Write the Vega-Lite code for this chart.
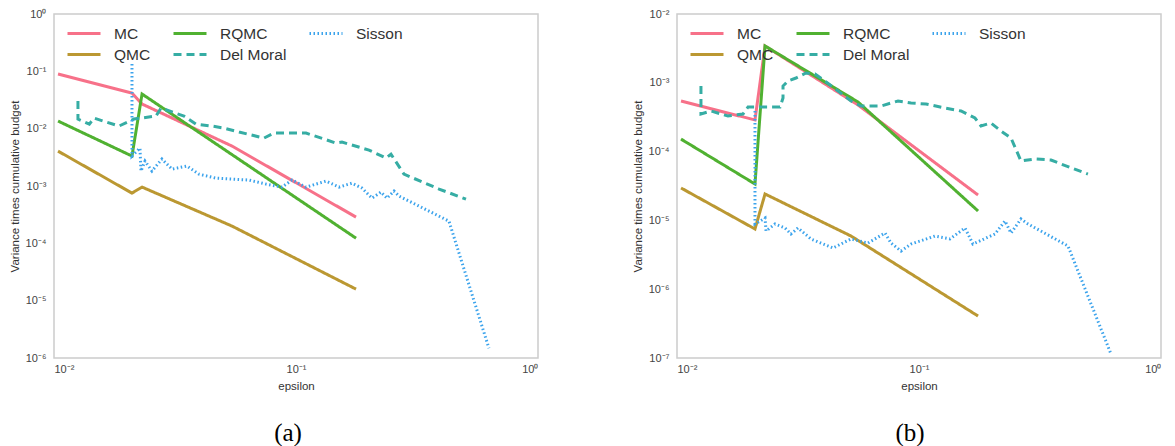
{
  "$schema": "https://vega.github.io/schema/vega-lite/v6.json",
  "padding": {"left": 8, "top": 7, "right": 5, "bottom": 5},
  "spacing": 92,
  "background": "white",
  "config": {
    "font": "Liberation Sans",
    "view": {"stroke": "#cccccc", "strokeWidth": 1.5},
    "axis": {"grid": false, "domain": false, "ticks": false, "labelFont": "Liberation Sans", "labelFontSize": 11, "labelColor": "#444444", "titleFont": "Liberation Sans", "titleFontSize": 11.5, "titleFontWeight": "normal", "titleColor": "#333333"},
    "axisY": {"labelPadding": 8, "minExtent": 26, "maxExtent": 26, "titlePadding": 8},
    "axisX": {"labelPadding": 5, "titlePadding": 6},
    "legend": {"orient": "none", "legendX": 17.5, "legendY": 7, "columns": 3, "columnPadding": 17, "rowPadding": -1, "symbolType": "M-1.5,0H1.5", "symbolSize": 484, "symbolStrokeWidth": 3, "labelFontSize": 15.5, "labelFont": "Liberation Sans", "labelColor": "#333333", "labelOffset": 17.5, "title": null, "padding": 0},
    "title": {"font": "Liberation Serif", "fontSize": 25, "fontWeight": "normal", "color": "#000000"}
  },
  "datasets": {
    "d": [
      {"p":"a","s":"MC","x":0.01039,"y":0.0897},
      {"p":"a","s":"MC","x":0.0210,"y":0.0418},
      {"p":"a","s":"MC","x":0.02311,"y":0.0269},
      {"p":"a","s":"MC","x":0.05439,"y":0.00497},
      {"p":"a","s":"MC","x":0.177,"y":0.000287},
      {"p":"a","s":"RQMC","x":0.01039,"y":0.01358},
      {"p":"a","s":"RQMC","x":0.0210,"y":0.00333},
      {"p":"a","s":"RQMC","x":0.02311,"y":0.0402},
      {"p":"a","s":"RQMC","x":0.177,"y":0.000123},
      {"p":"a","s":"QMC","x":0.01039,"y":0.00406},
      {"p":"a","s":"QMC","x":0.0210,"y":0.000752},
      {"p":"a","s":"QMC","x":0.02311,"y":0.000957},
      {"p":"a","s":"QMC","x":0.05439,"y":0.0002},
      {"p":"a","s":"QMC","x":0.177,"y":0.0000159},
      {"p":"a","s":"Del Moral","x":0.01256,"y":0.0303},
      {"p":"a","s":"Del Moral","x":0.01256,"y":0.01471},
      {"p":"a","s":"Del Moral","x":0.0140,"y":0.01203},
      {"p":"a","s":"Del Moral","x":0.01463,"y":0.0153},
      {"p":"a","s":"Del Moral","x":0.01856,"y":0.0111},
      {"p":"a","s":"Del Moral","x":0.0214,"y":0.01471},
      {"p":"a","s":"Del Moral","x":0.0264,"y":0.0166},
      {"p":"a","s":"Del Moral","x":0.02768,"y":0.0229},
      {"p":"a","s":"Del Moral","x":0.03445,"y":0.0166},
      {"p":"a","s":"Del Moral","x":0.03862,"y":0.01203},
      {"p":"a","s":"Del Moral","x":0.04497,"y":0.0111},
      {"p":"a","s":"Del Moral","x":0.05041,"y":0.01024},
      {"p":"a","s":"Del Moral","x":0.05814,"y":0.00873},
      {"p":"a","s":"Del Moral","x":0.07377,"y":0.00685},
      {"p":"a","s":"Del Moral","x":0.0811,"y":0.00838},
      {"p":"a","s":"Del Moral","x":0.110,"y":0.00838},
      {"p":"a","s":"Del Moral","x":0.1462,"y":0.00561},
      {"p":"a","s":"Del Moral","x":0.1549,"y":0.00583},
      {"p":"a","s":"Del Moral","x":0.2003,"y":0.00423},
      {"p":"a","s":"Del Moral","x":0.2355,"y":0.00307},
      {"p":"a","s":"Del Moral","x":0.2469,"y":0.0036},
      {"p":"a","s":"Del Moral","x":0.2793,"y":0.00161},
      {"p":"a","s":"Del Moral","x":0.390,"y":0.000883},
      {"p":"a","s":"Del Moral","x":0.504,"y":0.000591},
      {"p":"a","s":"Sisson","x":0.0210,"y":0.1341},
      {"p":"a","s":"Sisson","x":0.0210,"y":0.00333},
      {"p":"a","s":"Sisson","x":0.02266,"y":0.00458},
      {"p":"a","s":"Sisson","x":0.02288,"y":0.00182},
      {"p":"a","s":"Sisson","x":0.02377,"y":0.00272},
      {"p":"a","s":"Sisson","x":0.0254,"y":0.00182},
      {"p":"a","s":"Sisson","x":0.02793,"y":0.00295},
      {"p":"a","s":"Sisson","x":0.03074,"y":0.00197},
      {"p":"a","s":"Sisson","x":0.03546,"y":0.00223},
      {"p":"a","s":"Sisson","x":0.03973,"y":0.00161},
      {"p":"a","s":"Sisson","x":0.0467,"y":0.00137},
      {"p":"a","s":"Sisson","x":0.05439,"y":0.00132},
      {"p":"a","s":"Sisson","x":0.06397,"y":0.00127},
      {"p":"a","s":"Sisson","x":0.07516,"y":0.00108},
      {"p":"a","s":"Sisson","x":0.0875,"y":0.000957},
      {"p":"a","s":"Sisson","x":0.0963,"y":0.00127},
      {"p":"a","s":"Sisson","x":0.110,"y":0.000957},
      {"p":"a","s":"Sisson","x":0.1331,"y":0.00122},
      {"p":"a","s":"Sisson","x":0.1506,"y":0.000957},
      {"p":"a","s":"Sisson","x":0.1703,"y":0.00112},
      {"p":"a","s":"Sisson","x":0.1874,"y":0.000919},
      {"p":"a","s":"Sisson","x":0.2061,"y":0.000615},
      {"p":"a","s":"Sisson","x":0.2244,"y":0.000783},
      {"p":"a","s":"Sisson","x":0.2377,"y":0.000615},
      {"p":"a","s":"Sisson","x":0.2541,"y":0.000815},
      {"p":"a","s":"Sisson","x":0.2665,"y":0.000667},
      {"p":"a","s":"Sisson","x":0.4286,"y":0.000244},
      {"p":"a","s":"Sisson","x":0.627,"y":0.00000148},
      {"p":"b","s":"MC","x":0.01039,"y":0.000544},
      {"p":"b","s":"MC","x":0.0210,"y":0.000288},
      {"p":"b","s":"MC","x":0.02311,"y":0.003428},
      {"p":"b","s":"MC","x":0.05598,"y":0.000476},
      {"p":"b","s":"MC","x":0.1754,"y":0.0000234},
      {"p":"b","s":"RQMC","x":0.01039,"y":0.000152},
      {"p":"b","s":"RQMC","x":0.0210,"y":0.0000338},
      {"p":"b","s":"RQMC","x":0.02311,"y":0.003428},
      {"p":"b","s":"RQMC","x":0.05598,"y":0.000526},
      {"p":"b","s":"RQMC","x":0.1754,"y":0.0000137},
      {"p":"b","s":"QMC","x":0.01039,"y":0.0000296},
      {"p":"b","s":"QMC","x":0.0210,"y":0.0000075},
      {"p":"b","s":"QMC","x":0.02311,"y":0.0000242},
      {"p":"b","s":"QMC","x":0.05236,"y":0.00000593},
      {"p":"b","s":"QMC","x":0.1754,"y":0.000000407},
      {"p":"b","s":"Del Moral","x":0.01256,"y":0.000898},
      {"p":"b","s":"Del Moral","x":0.01256,"y":0.000352},
      {"p":"b","s":"Del Moral","x":0.01382,"y":0.000389},
      {"p":"b","s":"Del Moral","x":0.0152,"y":0.000352},
      {"p":"b","s":"Del Moral","x":0.01624,"y":0.000329},
      {"p":"b","s":"Del Moral","x":0.01874,"y":0.000352},
      {"p":"b","s":"Del Moral","x":0.01966,"y":0.000445},
      {"p":"b","s":"Del Moral","x":0.02665,"y":0.000445},
      {"p":"b","s":"Del Moral","x":0.02742,"y":0.000601},
      {"p":"b","s":"Del Moral","x":0.02742,"y":0.000898},
      {"p":"b","s":"Del Moral","x":0.02875,"y":0.001062},
      {"p":"b","s":"Del Moral","x":0.03102,"y":0.001174},
      {"p":"b","s":"Del Moral","x":0.03412,"y":0.001388},
      {"p":"b","s":"Del Moral","x":0.03718,"y":0.001343},
      {"p":"b","s":"Del Moral","x":0.04089,"y":0.001062},
      {"p":"b","s":"Del Moral","x":0.04628,"y":0.00076},
      {"p":"b","s":"Del Moral","x":0.05236,"y":0.000544},
      {"p":"b","s":"Del Moral","x":0.05754,"y":0.00046},
      {"p":"b","s":"Del Moral","x":0.06966,"y":0.00046},
      {"p":"b","s":"Del Moral","x":0.0819,"y":0.000544},
      {"p":"b","s":"Del Moral","x":0.0927,"y":0.000508},
      {"p":"b","s":"Del Moral","x":0.1069,"y":0.000492},
      {"p":"b","s":"Del Moral","x":0.128,"y":0.00043},
      {"p":"b","s":"Del Moral","x":0.1492,"y":0.000389},
      {"p":"b","s":"Del Moral","x":0.1703,"y":0.000308},
      {"p":"b","s":"Del Moral","x":0.1803,"y":0.000236},
      {"p":"b","s":"Del Moral","x":0.1983,"y":0.00026},
      {"p":"b","s":"Del Moral","x":0.2183,"y":0.000199},
      {"p":"b","s":"Del Moral","x":0.2399,"y":0.000158},
      {"p":"b","s":"Del Moral","x":0.2639,"y":0.000073},
      {"p":"b","s":"Del Moral","x":0.3013,"y":0.0000781},
      {"p":"b","s":"Del Moral","x":0.3512,"y":0.0000755},
      {"p":"b","s":"Del Moral","x":0.3862,"y":0.0000661},
      {"p":"b","s":"Del Moral","x":0.4989,"y":0.0000472},
      {"p":"b","s":"Sisson","x":0.0210,"y":0.000389},
      {"p":"b","s":"Sisson","x":0.0210,"y":0.00000887},
      {"p":"b","s":"Sisson","x":0.02311,"y":0.0000108},
      {"p":"b","s":"Sisson","x":0.02333,"y":0.00000701},
      {"p":"b","s":"Sisson","x":0.0254,"y":0.00000887},
      {"p":"b","s":"Sisson","x":0.02795,"y":0.00000776},
      {"p":"b","s":"Sisson","x":0.02958,"y":0.00000634},
      {"p":"b","s":"Sisson","x":0.03162,"y":0.00000776},
      {"p":"b","s":"Sisson","x":0.03578,"y":0.00000537},
      {"p":"b","s":"Sisson","x":0.04411,"y":0.00000397},
      {"p":"b","s":"Sisson","x":0.05236,"y":0.00000537},
      {"p":"b","s":"Sisson","x":0.0615,"y":0.00000469},
      {"p":"b","s":"Sisson","x":0.07236,"y":0.00000656},
      {"p":"b","s":"Sisson","x":0.0766,"y":0.00000469},
      {"p":"b","s":"Sisson","x":0.0843,"y":0.00000359},
      {"p":"b","s":"Sisson","x":0.0927,"y":0.00000454},
      {"p":"b","s":"Sisson","x":0.1164,"y":0.00000593},
      {"p":"b","s":"Sisson","x":0.1343,"y":0.00000537},
      {"p":"b","s":"Sisson","x":0.1549,"y":0.00000776},
      {"p":"b","s":"Sisson","x":0.1671,"y":0.00000454},
      {"p":"b","s":"Sisson","x":0.2061,"y":0.00000634},
      {"p":"b","s":"Sisson","x":0.2266,"y":0.0000098},
      {"p":"b","s":"Sisson","x":0.2399,"y":0.00000656},
      {"p":"b","s":"Sisson","x":0.2639,"y":0.0000105},
      {"p":"b","s":"Sisson","x":0.2821,"y":0.00000887},
      {"p":"b","s":"Sisson","x":0.4127,"y":0.00000425},
      {"p":"b","s":"Sisson","x":0.6215,"y":0.000000114}
    ]
  },
  "data": {"name": "d"},
  "resolve": {
    "scale": {"x": "independent", "y": "independent", "color": "independent", "strokeDash": "independent"},
    "legend": {"color": "independent", "strokeDash": "independent"}
  },
  "hconcat": [
    {
      "width": 484, "height": 344,
      "title": {"text": "(a)", "orient": "bottom", "offset": 29, "dx": -8},
      "transform": [{"filter": "datum.p === 'a'"}],
      "mark": {"type": "line", "strokeWidth": 3, "clip": true, "strokeCap": "butt"},
      "encoding": {
        "x": {"field": "x", "type": "quantitative", "scale": {"type": "log", "domain": [0.01, 1], "nice": false}, "axis": {"title": "epsilon", "values": [0.01, 0.1, 1], "labelExpr": "['10⁻⁷','10⁻⁶','10⁻⁵','10⁻⁴','10⁻³','10⁻²','10⁻¹','10⁰'][round(log(datum.value)/LN10)+7]"}},
        "y": {"field": "y", "type": "quantitative", "scale": {"type": "log", "domain": [0.000001, 1], "nice": false}, "axis": {"title": "Variance times cumulative budget", "values": [0.000001, 0.00001, 0.0001, 0.001, 0.01, 0.1, 1], "labelExpr": "['10⁻⁷','10⁻⁶','10⁻⁵','10⁻⁴','10⁻³','10⁻²','10⁻¹','10⁰'][round(log(datum.value)/LN10)+7]"}},
        "color": {"field": "s", "type": "nominal", "scale": {"domain": ["MC", "QMC", "RQMC", "Del Moral", "Sisson"], "range": ["#f77189", "#bb9832", "#50b131", "#36ada4", "#3ba3ec"]}},
        "strokeDash": {"field": "s", "type": "nominal", "scale": {"domain": ["MC", "QMC", "RQMC", "Del Moral", "Sisson"], "range": [[1, 0], [1, 0], [1, 0], [8, 5], [1.5, 2.5]]}},
        "order": {"value": null}
      }
    },
    {
      "width": 484, "height": 344,
      "title": {"text": "(b)", "orient": "bottom", "offset": 29, "dx": -9},
      "transform": [{"filter": "datum.p === 'b'"}],
      "mark": {"type": "line", "strokeWidth": 3, "clip": true, "strokeCap": "butt"},
      "encoding": {
        "x": {"field": "x", "type": "quantitative", "scale": {"type": "log", "domain": [0.01, 1], "nice": false}, "axis": {"title": "epsilon", "values": [0.01, 0.1, 1], "labelExpr": "['10⁻⁷','10⁻⁶','10⁻⁵','10⁻⁴','10⁻³','10⁻²','10⁻¹','10⁰'][round(log(datum.value)/LN10)+7]"}},
        "y": {"field": "y", "type": "quantitative", "scale": {"type": "log", "domain": [0.0000001, 0.01], "nice": false}, "axis": {"title": "Variance times cumulative budget", "values": [0.0000001, 0.000001, 0.00001, 0.0001, 0.001, 0.01], "labelExpr": "['10⁻⁷','10⁻⁶','10⁻⁵','10⁻⁴','10⁻³','10⁻²','10⁻¹','10⁰'][round(log(datum.value)/LN10)+7]"}},
        "color": {"field": "s", "type": "nominal", "scale": {"domain": ["MC", "QMC", "RQMC", "Del Moral", "Sisson"], "range": ["#f77189", "#bb9832", "#50b131", "#36ada4", "#3ba3ec"]}},
        "strokeDash": {"field": "s", "type": "nominal", "scale": {"domain": ["MC", "QMC", "RQMC", "Del Moral", "Sisson"], "range": [[1, 0], [1, 0], [1, 0], [8, 5], [1.5, 2.5]]}},
        "order": {"value": null}
      }
    }
  ]
}
